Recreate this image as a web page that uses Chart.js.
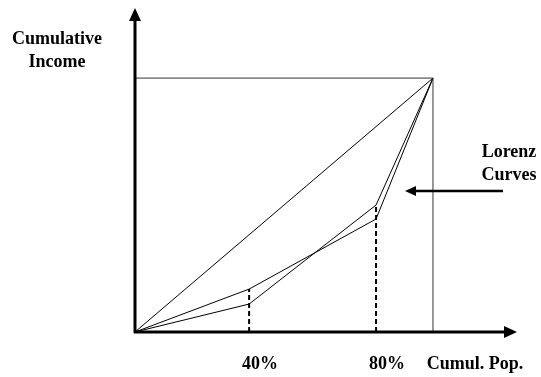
<!DOCTYPE html>
<html lang="en">
<head>
    <meta charset="UTF-8">
    <title>Lorenz Curves</title>
    <style>
        body {
            margin: 0;
            padding: 0;
            background: #fff;
        }

        .chart-container {
            width: 541px;
            height: 377px;
        }
    </style>
</head>
<body>
    <div class="chart-container">
        <canvas id="lorenzChart"></canvas>
    </div>

    <script src="https://cdn.jsdelivr.net/npm/chart.js"></script>

    <script>
        // values (percent of population / income)
        const popShare = [0, 38.3, 80.9, 100];
        const lorenzA = [0, 16.9, 44.5, 100];
        const lorenzB = [0, 11.0, 50.0, 100];
        const equality = [0, 100];
        const tickLabels = ['40%', '80%'];
        const xAxisTitle = 'Cumul. Pop.';
        const yAxisTitle = ['Cumulative', 'Income'];
        const calloutText = ['Lorenz', 'Curves'];

        const FONT = 'bold 18px "Liberation Serif", "Times New Roman", serif';

        function toPoints(xs, ys) {
            return xs.map((x, i) => ({ x: x, y: ys[i] }));
        }

        function arrowHead(ctx, x, y, dir, len, half) {
            ctx.beginPath();
            if (dir === 'up') {
                ctx.moveTo(x, y);
                ctx.lineTo(x - half, y + len);
                ctx.lineTo(x + half, y + len);
            } else if (dir === 'right') {
                ctx.moveTo(x, y);
                ctx.lineTo(x - len, y - half);
                ctx.lineTo(x - len, y + half);
            } else {
                ctx.moveTo(x, y);
                ctx.lineTo(x + len, y - half);
                ctx.lineTo(x + len, y + half);
            }
            ctx.closePath();
            ctx.fill();
        }

        // axes with arrows, tick labels and the callout
        const decorations = {
            id: 'decorations',
            afterDatasetsDraw(chart) {
                const ctx = chart.ctx;
                const sx = chart.scales.x;
                const sy = chart.scales.y;
                const x0 = sx.getPixelForValue(0);
                const y0 = sy.getPixelForValue(0);
                const xEnd = sx.right;
                const yEnd = sy.top;

                ctx.save();
                ctx.fillStyle = '#000';
                ctx.strokeStyle = '#000';
                ctx.lineWidth = 3;
                ctx.beginPath();
                ctx.moveTo(x0, y0 + 1);
                ctx.lineTo(x0, yEnd + 10);
                ctx.moveTo(x0 - 1, y0);
                ctx.lineTo(xEnd - 10, y0);
                ctx.stroke();
                arrowHead(ctx, x0, yEnd, 'up', 13, 6);
                arrowHead(ctx, xEnd, y0, 'right', 13, 6);

                ctx.font = FONT;
                ctx.textAlign = 'center';
                ctx.textBaseline = 'middle';
                [popShare[1], popShare[2]].forEach((v, i) => {
                    ctx.fillText(tickLabels[i], sx.getPixelForValue(v) + 11, y0 + 32);
                });
                ctx.fillText(xAxisTitle, 475, y0 + 32);
                ctx.fillText(yAxisTitle[0], 57, 39);
                ctx.fillText(yAxisTitle[1], 57, 62);
                ctx.fillText(calloutText[0], 509, 152);
                ctx.fillText(calloutText[1], 509, 175);

                // callout arrow
                ctx.lineWidth = 2.5;
                ctx.beginPath();
                ctx.moveTo(503, 191);
                ctx.lineTo(414, 191);
                ctx.stroke();
                arrowHead(ctx, 405, 191, 'left', 11, 5);
                ctx.restore();
            }
        };

        function renderChart() {
            const ctx = document.getElementById('lorenzChart').getContext('2d');
            const thin = { borderColor: '#000', borderWidth: 1, pointRadius: 0, showLine: true, fill: false };
            const dashed = { borderColor: '#000', borderWidth: 2, borderDash: [5, 3], pointRadius: 0, showLine: true };

            new Chart(ctx, {
                type: 'scatter',
                data: {
                    datasets: [
                        Object.assign({ label: 'Box top', data: toPoints([0, 100], [100, 100]) }, thin, { borderColor: '#333' }),
                        Object.assign({ label: 'Box side', data: toPoints([100, 100], [0, 100]) }, thin, { borderColor: '#333' }),
                        Object.assign({ label: 'Equality', data: toPoints(equality, equality) }, thin),
                        Object.assign({ label: 'Lorenz A', data: toPoints(popShare, lorenzA) }, thin),
                        Object.assign({ label: 'Lorenz B', data: toPoints(popShare, lorenzB) }, thin),
                        Object.assign({ label: '40% guide', data: toPoints([popShare[1], popShare[1]], [0, Math.max(lorenzA[1], lorenzB[1])]) }, dashed),
                        Object.assign({ label: '80% guide', data: toPoints([popShare[2], popShare[2]], [0, Math.max(lorenzA[2], lorenzB[2])]) }, dashed)
                    ]
                },
                options: {
                    responsive: true,
                    maintainAspectRatio: false,
                    animation: false,
                    layout: {
                        padding: { left: 135, right: 24, top: 8, bottom: 45 }
                    },
                    plugins: {
                        legend: { display: false },
                        tooltip: { enabled: false }
                    },
                    scales: {
                        x: { type: 'linear', min: 0, max: 128.2, display: false },
                        y: { type: 'linear', min: 0, max: 127.6, display: false }
                    }
                },
                plugins: [decorations]
            });
        }

        window.onload = renderChart;
    </script>
</body>
</html>
